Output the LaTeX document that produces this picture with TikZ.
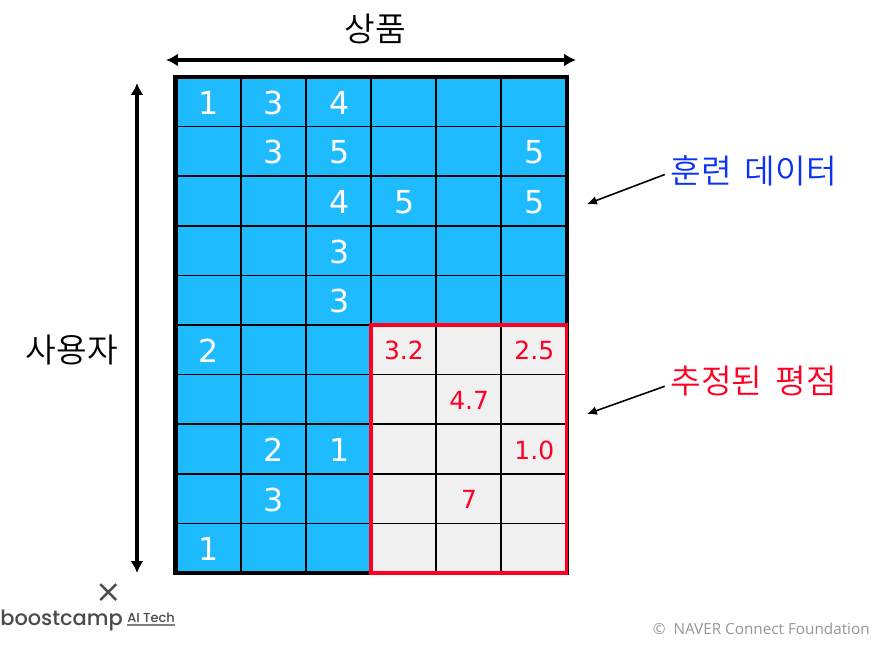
\documentclass[tikz,border=0pt]{standalone}
\usepackage{fontspec}
\usepackage{xcolor}
\usetikzlibrary{arrows.meta}
\setmainfont{DejaVu Sans}
\newfontfamily\krfont{Noto Sans CJK KR DemiLight}
\newfontfamily\logofont{Poppins Medium}
\newfontfamily\notefont{Open Sans}
\definecolor{cellblue}{HTML}{1EBBFF}
\definecolor{cellgray}{HTML}{F0F0F0}
\definecolor{markred}{HTML}{FF0022}
\definecolor{textblue}{HTML}{0A32F5}
\definecolor{logogray}{HTML}{4A4A4A}
\tikzset{
	cell/.style={draw=black, line width=1pt, minimum width=65.17*0.02cm, minimum height=49.6*0.02cm, inner sep=0pt, outer sep=0pt},
	rating/.style={text=white, font=\fontsize{18}{18}\selectfont, yshift=-0.6pt, xshift=0.4pt},
	guess/.style={text=markred, font=\fontsize{14.2}{15}\selectfont, yshift=-0.6pt, xshift=0.2pt},
	title/.style={font=\krfont\fontsize{19}{20}\selectfont},
	callout/.style={font=\krfont\fontsize{19}{20}\selectfont, anchor=west, inner sep=0pt},
	bigarrow/.style={<->, line width=1.9pt, >={Latex[length=6.8pt,width=7.4pt]}},
	thinarrow/.style={->, line width=0.9pt, >={Latex[length=5.6pt,width=5pt]}}
}

\begin{document}
\begin{tikzpicture}[x=0.02cm, y=-0.02cm]
			\useasboundingbox (0,0) rectangle (891,649);
			% grid
			\foreach \r in {0,...,9}
				\foreach \c in {0,...,5}
					\node[cell, fill=cellblue] (cell-\r-\c) at (175.5+65.17*\c+32.58, 77+49.6*\r+24.8) {};
			\foreach \r in {5,...,9}
				\foreach \c in {3,4,5}
					\node[cell, fill=cellgray] (cell-\r-\c) at (175.5+65.17*\c+32.58, 77+49.6*\r+24.8) {};
			\foreach \r/\c/\v in {0/0/1,0/1/3,0/2/4,1/1/3,1/2/5,1/5/5,2/2/4,2/3/5,2/5/5,3/2/3,4/2/3,5/0/2,7/1/2,7/2/1,8/1/3,9/0/1}
				\node[rating] at (cell-\r-\c) {\v};
			\foreach \r/\c/\v in {5/3/3.2,5/5/2.5,6/4/4.7,7/5/1.0,8/4/7}
				\node[guess] at (cell-\r-\c) {\v};
			\draw[line width=2.3pt] (cell-0-0.north west) rectangle (cell-9-5.south east);
			\draw[markred, line width=2.1pt] (cell-5-3.north west) rectangle (cell-9-5.south east);
			% axes
			\coordinate (itemleft) at (166,60);
			\coordinate (itemright) at (576,60);
			\coordinate (usertop) at (137,83);
			\coordinate (userbottom) at (137,573);
			\draw[bigarrow] (itemleft) -- (itemright);
			\draw[bigarrow] (usertop) -- (userbottom);
			\node[title] (itemlabel) at (375,29) {상품};
			\node[title] (userlabel) at (72,350) {사용자};
			% callouts
			\node[callout, text=textblue] (trainlabel) at (670,171) {훈련 \,데이터};
			\node[callout, text=markred] (guesslabel) at (670,381) {추정된 \,평점};
			\coordinate (trainend) at (587,204);
			\coordinate (guessend) at (587,414);
			\draw[thinarrow] ([xshift=-3pt,yshift=-2pt]trainlabel.west) -- (trainend);
			\draw[thinarrow] ([xshift=-3pt,yshift=-3pt]guesslabel.west) -- (guessend);
			% footer
			\node[text=logogray, font=\fontsize{18}{18}\selectfont] (logocross) at (109,593) {×};
			\node[text=logogray, font=\logofont\fontsize{11.9}{13}\selectfont, anchor=west, inner sep=0pt] (logomain) at (0,620) {boostcamp};
			\node[text=logogray, font=\logofont\fontsize{7.4}{8}\selectfont, anchor=west, inner sep=0pt] (logotech) at (127,618) {AI Tech};
			\draw[gray, line width=0.9pt] ([yshift=-1pt]logotech.south west) -- ([yshift=-1pt]logotech.south east);
			\node[text=black!42, font=\notefont\fontsize{8.7}{9}\selectfont, anchor=east, inner sep=0pt] (copyright) at (870,629) {©\ \ NAVER Connect Foundation};
		\end{tikzpicture}
\end{document}
